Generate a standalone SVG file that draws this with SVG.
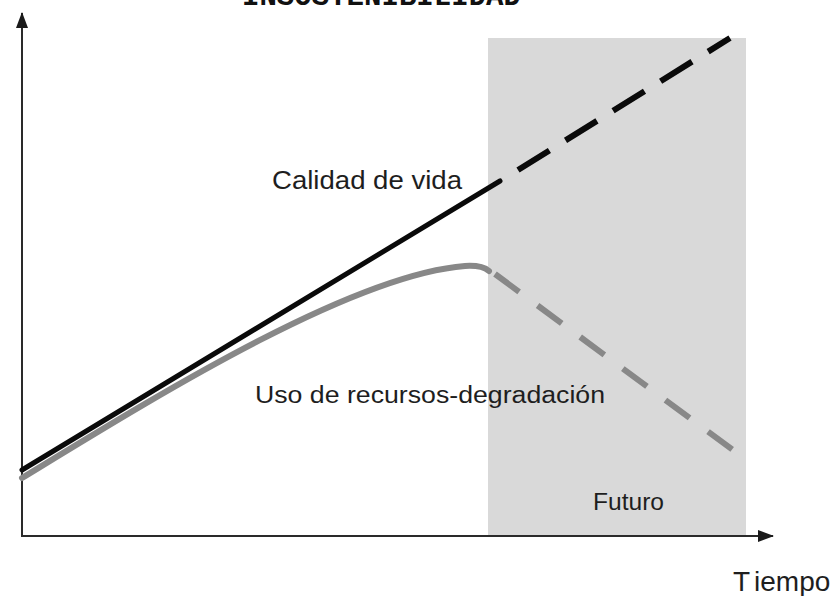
<svg xmlns="http://www.w3.org/2000/svg" width="833" height="596" viewBox="0 0 833 596">
<style>
.lbl{font-family:"Liberation Sans",Arial,sans-serif;fill:#1e1e1e}
.axis{stroke:#2a2a2a;stroke-width:2;fill:none}
</style>
<defs>
<marker id="ah" markerWidth="16" markerHeight="12" refX="15" refY="6" orient="auto" markerUnits="userSpaceOnUse">
<path d="M0,0 L16,6 L0,12 Z" fill="#1a1a1a"/>
</marker>
</defs>
<rect width="833" height="596" fill="#ffffff"/>
<g id="futuro">
<rect x="488" y="38" width="258" height="497" fill="#d9d9d9"/>
<text class="lbl" x="593" y="510" font-size="24" textLength="71" lengthAdjust="spacingAndGlyphs">Futuro</text>
</g>
<text x="242" y="5" font-family="'Liberation Mono','Courier New',monospace" font-weight="bold" font-size="29" fill="#111" textLength="279" lengthAdjust="spacingAndGlyphs">INSOSTENIBILIDAD</text>
<g id="connectors">
<line class="axis" x1="22" y1="536" x2="22" y2="13" marker-end="url(#ah)"/>
<line class="axis" x1="21" y1="536" x2="773" y2="536" marker-end="url(#ah)"/>
<path id="uso-solid" d="M22,478 C150,400 350,275 465,266 Q482,265 489,271" fill="none" stroke="#888888" stroke-width="6" stroke-linecap="round"/>
<path id="uso-dash" d="M495,274 L737,453" fill="none" stroke="#888888" stroke-width="6" stroke-dasharray="30 23"/>
<path id="calidad-solid" d="M22,470 L500,181" fill="none" stroke="#0a0a0a" stroke-width="5" stroke-linecap="round"/>
<path id="calidad-dash" d="M518,170 L730,38" fill="none" stroke="#0a0a0a" stroke-width="6" stroke-dasharray="37 19"/>
</g>
<g id="calidad-label">
<text class="lbl" x="272" y="189" font-size="26" textLength="190" lengthAdjust="spacingAndGlyphs">Calidad de vida</text>
</g>
<g id="uso-label">
<text class="lbl" x="255" y="403" font-size="23" textLength="350" lengthAdjust="spacingAndGlyphs">Uso de recursos-degradación</text>
</g>
<g id="tiempo-label">
<text class="lbl" x="733" y="591" font-size="28"><tspan>T</tspan><tspan dx="5">iempo</tspan></text>
</g>
</svg>
